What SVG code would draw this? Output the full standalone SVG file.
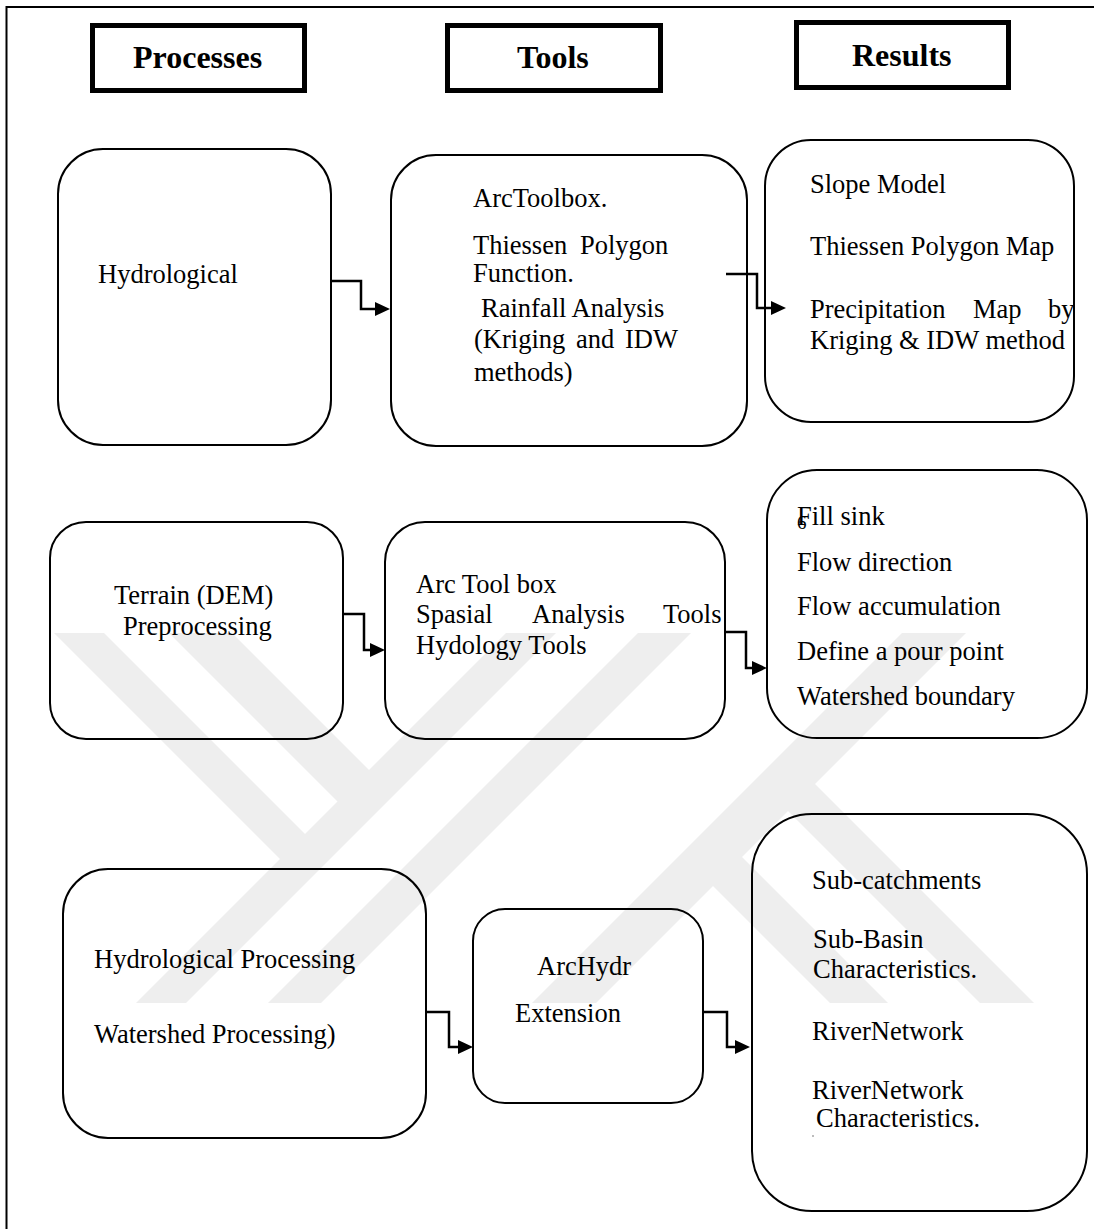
<svg xmlns="http://www.w3.org/2000/svg" width="1094" height="1229" viewBox="0 0 1094 1229">
<style>
.wm{fill:#eeeeee;stroke:none}
.hdr{fill:none;stroke:#000;stroke-width:5}
.box{fill:none;stroke:#000;stroke-width:2}
.t{font-family:"Liberation Serif","Times New Roman",serif;font-size:26.5px;fill:#000}
.h{font-family:"Liberation Serif","Times New Roman",serif;font-size:32px;font-weight:bold;fill:#000}
.con{fill:none;stroke:#000;stroke-width:2.5;stroke-linejoin:miter;stroke-linecap:butt}
</style>
<defs>
<marker id="arr" markerUnits="userSpaceOnUse" markerWidth="16" markerHeight="14" refX="0" refY="7" orient="auto">
<path d="M0,0 L15,7 L0,14 z" fill="#000"/>
</marker>
</defs>
<rect x="0" y="0" width="1094" height="1229" fill="#fff"/>
<g id="watermark">
<polygon class="wm" points="54,633 104,633 310,839 285,864"/>
<polygon class="wm" points="169,633 232,633 374,775 342,806"/>
<polygon class="wm" points="506,633 556,633 186,1003 136,1003"/>
<polygon class="wm" points="638,633 691,633 321,1003 268,1003"/>
<polygon class="wm" points="902,633 966,633 596,1003 532,1003"/>
<polygon class="wm" points="737,852 888,1003 830,1003 708,881"/>
<polygon class="wm" points="810,779 1034,1003 980,1003 783,806"/>
</g>
<path d="M6.5,1229 V7 H1094" fill="none" stroke="#000" stroke-width="2"/>
<g id="hdr-processes">
<rect class="hdr" x="92.5" y="25.5" width="212" height="65"/>
<text class="h" x="133" y="68">Processes</text>
</g>
<g id="hdr-tools">
<rect class="hdr" x="447.5" y="25.5" width="213" height="65"/>
<text class="h" x="517" y="68">Tools</text>
</g>
<g id="hdr-results">
<rect class="hdr" x="796.5" y="22.5" width="212" height="65"/>
<text class="h" x="852" y="66">Results</text>
</g>
<g id="n-hydrological">
<rect class="box" x="58" y="149" width="273" height="296" rx="45" ry="45"/>
<text class="t" x="98" y="283">Hydrological</text>
</g>
<g id="n-arctoolbox">
<rect class="box" x="391" y="155" width="356" height="291" rx="45" ry="45"/>
<text class="t" x="473" y="207">ArcToolbox.</text>
<text class="t" y="254"><tspan x="473">Thiessen</tspan><tspan x="580">Polygon</tspan></text>
<text class="t" x="473" y="282">Function.</text>
<text class="t" x="481" y="317">Rainfall Analysis</text>
<text class="t" y="348"><tspan x="474">(Kriging</tspan><tspan x="576">and</tspan><tspan x="625">IDW</tspan></text>
<text class="t" x="474" y="381">methods)</text>
</g>
<g id="n-results1">
<rect class="box" x="765" y="140" width="309" height="282" rx="46" ry="46"/>
<text class="t" x="810" y="193">Slope Model</text>
<text class="t" x="810" y="255">Thiessen Polygon Map</text>
<text class="t" y="318"><tspan x="810">Precipitation</tspan><tspan x="973">Map</tspan><tspan x="1048">by</tspan></text>
<text class="t" x="810" y="349">Kriging &amp; IDW method</text>
</g>
<g id="n-terrain">
<rect class="box" x="50" y="522" width="293" height="217" rx="36" ry="36"/>
<text class="t" x="114" y="604">Terrain (DEM)</text>
<text class="t" x="123" y="635">Preprocessing</text>
</g>
<g id="n-tools2">
<rect class="box" x="385" y="522" width="340" height="217" rx="40" ry="40"/>
<text class="t" x="416" y="593">Arc Tool box</text>
<text class="t" y="623"><tspan x="416">Spasial</tspan><tspan x="532">Analysis</tspan><tspan x="663">Tools</tspan></text>
<text class="t" x="416" y="654">Hydology Tools</text>
</g>
<g id="n-results2">
<rect class="box" x="767" y="470" width="320" height="268" rx="50" ry="50"/>
<text class="t" x="797" y="525">Fill sink</text>
<text class="t" x="797" y="528.5" style="font-size:19px">6</text>
<text class="t" x="797" y="571">Flow direction</text>
<text class="t" x="797" y="615">Flow accumulation</text>
<text class="t" x="797" y="660">Define a pour point</text>
<text class="t" x="797" y="705">Watershed boundary</text>
</g>
<g id="n-hydproc">
<rect class="box" x="63" y="869" width="363" height="269" rx="45" ry="45"/>
<text class="t" x="94" y="968">Hydrological Processing</text>
<text class="t" x="94" y="1043">Watershed Processing)</text>
</g>
<g id="n-archydr">
<rect class="box" x="473" y="909" width="230" height="194" rx="32" ry="32"/>
<text class="t" x="537" y="975">ArcHydr</text>
<text class="t" x="515" y="1022">Extension</text>
</g>
<g id="n-results3">
<rect class="box" x="752" y="814" width="335" height="397" rx="60" ry="60"/>
<text class="t" x="812" y="889">Sub-catchments</text>
<text class="t" x="813" y="948">Sub-Basin</text>
<text class="t" x="813" y="978">Characteristics.</text>
<text class="t" x="812" y="1040">RiverNetwork</text>
<text class="t" x="812" y="1099">RiverNetwork</text>
<text class="t" x="816" y="1127">Characteristics.</text>
<circle cx="813" cy="1136" r="0.8" fill="#666"/>
</g>
<g id="connectors">
<polyline class="con" points="332,281 361,281 361,309 375,309" marker-end="url(#arr)"/>
<polyline class="con" points="726,274 757,274 757,308 771,308" marker-end="url(#arr)"/>
<polyline class="con" points="342,614 364,614 364,650 370,650" marker-end="url(#arr)"/>
<polyline class="con" points="724,632 746,632 746,668 752,668" marker-end="url(#arr)"/>
<polyline class="con" points="425,1012 449,1012 449,1047 458,1047" marker-end="url(#arr)"/>
<polyline class="con" points="703,1012 727,1012 727,1047 735,1047" marker-end="url(#arr)"/>
</g>
</svg>
